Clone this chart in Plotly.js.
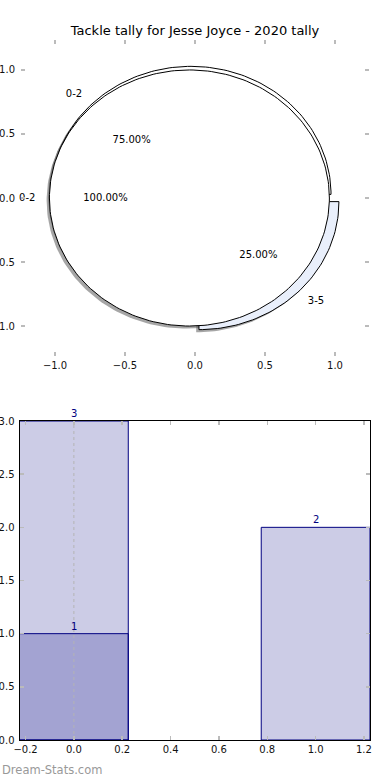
<!DOCTYPE html>
<html>
<head>
<meta charset="utf-8">
<script src="https://cdn.plot.ly/plotly-3.0.1.min.js"></script>
<style>html,body{margin:0;padding:0;background:#fff;}#chart{width:390px;height:780px;}</style>
</head>
<body>
<div id="chart"></div>
<script>
// ---- data ----
const chartTitle = 'Tackle tally for Jesse Joyce - 2020 tally';
const pieLabels = ['0-2', '3-5'];
const pieValues = [3, 1];
const fullPieLabels = ['0-2'];
const fullPieValues = [1];
const barX = [0, 1];
const barTotals = [3, 2];
const barSubX = [0];
const barSub = [1];
const pieTicks = [-1, -0.5, 0, 0.5, 1];
const barXTicks = [-0.2, 0, 0.2, 0.4, 0.6, 0.8, 1.0, 1.2];
const barYTicks = [0, 0.5, 1, 1.5, 2, 2.5, 3];
const watermark = 'Dream-Stats.com';

// ---- styles ----
const FONT = 'DejaVu Sans';
const EXPLODE = 0.04;
const SH = 0.02;
const pieFills = ['#ffffff', '#e9effb'];
const navy = '#000080';
const barFill = 'rgba(0,0,128,0.2)';

function wedge(cx, cy, r, t1, t2) {
  const xs = [], ys = [];
  const full = Math.abs(t2 - t1) >= 360 - 1e-9;
  const n = Math.max(8, Math.ceil(Math.abs(t2 - t1) / 1.5));
  if (!full) { xs.push(cx); ys.push(cy); }
  for (let i = 0; i <= n; i++) {
    const a = (t1 + (t2 - t1) * i / n) * Math.PI / 180;
    xs.push(cx + r * Math.cos(a)); ys.push(cy + r * Math.sin(a));
  }
  if (!full) { xs.push(cx); ys.push(cy); }
  return {xs, ys};
}

function pieGeom(labels, values, fills) {
  const total = values.reduce((a, b) => a + b, 0);
  let cum = 0;
  return values.map((v, i) => {
    const t1 = 360 * cum / total; cum += v;
    const t2 = 360 * cum / total;
    const mid = (t1 + t2) / 2 * Math.PI / 180;
    const ox = EXPLODE * Math.cos(mid), oy = EXPLODE * Math.sin(mid);
    return {label: labels[i], pct: (100 * v / total).toFixed(2) + '%', t1, t2, mid, ox, oy, fill: fills[i % fills.length]};
  });
}

const pieA = pieGeom(pieLabels, pieValues, pieFills);
const pieB = pieGeom(fullPieLabels, fullPieValues, ['#ffffff']);
const allW = pieA.concat(pieB);

const traces = [];
// shadows first
allW.forEach(w => {
  const p = wedge(w.ox - SH, w.oy - SH, 1, w.t1, w.t2);
  traces.push({x: p.xs, y: p.ys, type: 'scatter', mode: 'lines', fill: 'toself',
    fillcolor: 'rgba(77,77,77,0.5)', line: {width: 0}, hoverinfo: 'skip', xaxis: 'x', yaxis: 'y', showlegend: false});
});
// wedges
allW.forEach(w => {
  const p = wedge(w.ox, w.oy, 1, w.t1, w.t2);
  traces.push({x: p.xs, y: p.ys, type: 'scatter', mode: 'lines', fill: 'toself',
    fillcolor: w.fill, line: {color: '#000', width: 1}, hoverinfo: 'skip', xaxis: 'x', yaxis: 'y', showlegend: false});
});
// labels
allW.forEach(w => {
  const c = Math.cos(w.mid), s = Math.sin(w.mid);
  traces.push({x: [w.ox + 1.1 * c], y: [w.oy + 1.1 * s], text: [w.label], type: 'scatter', mode: 'text',
    textposition: c < 0 ? 'middle left' : 'middle right', textfont: {family: FONT, size: 10, color: '#000'},
    hoverinfo: 'skip', xaxis: 'x', yaxis: 'y', showlegend: false, cliponaxis: false});
  traces.push({x: [w.ox + 0.6 * c], y: [w.oy + 0.6 * s], text: [w.pct], type: 'scatter', mode: 'text',
    textposition: 'middle center', textfont: {family: FONT, size: 10, color: '#000'},
    hoverinfo: 'skip', xaxis: 'x', yaxis: 'y', showlegend: false, cliponaxis: false});
});

// bar chart
traces.push({x: barX, y: barTotals, type: 'bar', width: 0.45, marker: {color: barFill, line: {color: navy, width: 1}},
  xaxis: 'x2', yaxis: 'y2', hoverinfo: 'skip', showlegend: false});
traces.push({x: barSubX, y: barSub, type: 'bar', width: 0.45, marker: {color: barFill, line: {color: navy, width: 1}},
  xaxis: 'x2', yaxis: 'y2', hoverinfo: 'skip', showlegend: false});
traces.push({x: [barX[0], barX[0]], y: [0, Math.max(...barTotals)], type: 'scatter', mode: 'lines',
  line: {color: '#b4b4b4', width: 1, dash: 'dot'}, xaxis: 'x2', yaxis: 'y2', hoverinfo: 'skip', showlegend: false});

const barAnnots = barX.concat(barSubX).map((x, i) => ({
  x: x, y: barTotals.concat(barSub)[i], text: String(barTotals.concat(barSub)[i]), xref: 'x2', yref: 'y2',
  xanchor: 'center', yanchor: 'bottom', showarrow: false, yshift: 0,
  font: {family: FONT, size: 10, color: navy}
}));

const W = 390, H = 780;
const tickFont = {family: FONT, size: 10, color: '#111'};
const common = {ticks: 'inside', ticklen: 4, tickwidth: 1.5, tickcolor: '#bbbbbb', mirror: 'ticks',
  showgrid: false, zeroline: false, tickfont: tickFont, fixedrange: true, tickformat: '.1f'};
const layout = {
  width: W, height: H, margin: {l: 0, r: 0, t: 0, b: 0}, paper_bgcolor: '#fff', plot_bgcolor: 'rgba(0,0,0,0)',
  showlegend: false, barmode: 'overlay',
  font: {family: FONT},
  title: {text: chartTitle, x: 0.5, xanchor: 'center', y: 1 - 30 / H, yanchor: 'middle', font: {family: FONT, size: 13, color: '#000'}},
  xaxis: Object.assign({}, common, {domain: [21 / W, 369 / W], range: [-1.243, 1.243], tickvals: pieTicks,
    showline: true, linecolor: 'rgba(0,0,0,0)', anchor: 'y'}),
  yaxis: Object.assign({}, common, {domain: [1 - 356 / H, 1 - 40 / H], range: [-1.234, 1.234], tickvals: pieTicks,
    showline: true, linecolor: 'rgba(0,0,0,0)', anchor: 'x', ticklabelstandoff: 3}),
  xaxis2: Object.assign({}, common, {domain: [19.5 / W, 370 / W], range: [-0.225, 1.225], tickvals: barXTicks,
    showline: true, linecolor: '#000', linewidth: 1, anchor: 'y2'}),
  yaxis2: Object.assign({}, common, {domain: [1 - 740 / H, 1 - 421 / H], range: [0, 3], tickvals: barYTicks,
    showline: true, linecolor: '#000', linewidth: 1, anchor: 'x2', ticklabelstandoff: 2}),
  annotations: barAnnots.concat([{text: watermark, xref: 'paper', yref: 'paper', x: 0, y: 1 - 770 / H, xanchor: 'left', yanchor: 'middle',
    showarrow: false, font: {family: FONT, size: 11.5, color: '#999999'}}])
};

Plotly.newPlot('chart', traces, layout, {staticPlot: true, displayModeBar: false});
</script>
</body>
</html>
